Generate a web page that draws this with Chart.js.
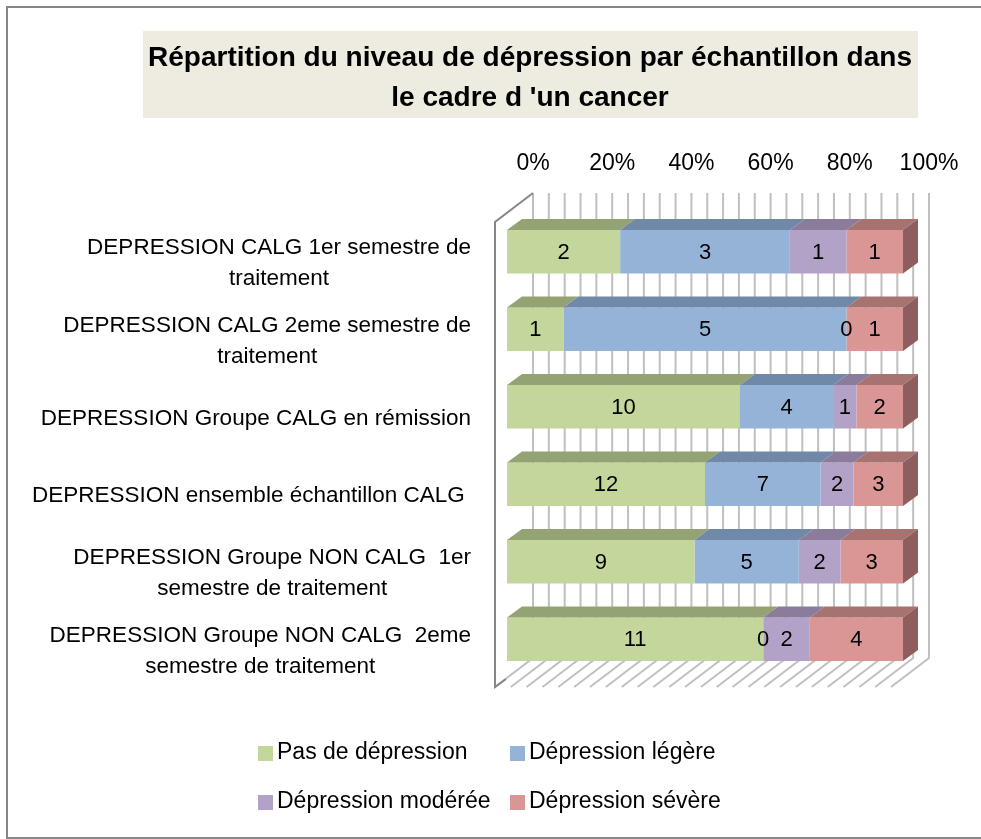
<!DOCTYPE html>
<html>
<head>
<meta charset="utf-8">
<script src="https://cdn.jsdelivr.net/npm/chart.js@4.4.1/dist/chart.umd.min.js"></script>
<style>
  html, body { margin: 0; padding: 0; background: #ffffff; }
  #chart { display: block; }
</style>
</head>
<body>
<canvas id="chart" width="981" height="839"></canvas>
<script>
(function () {
  "use strict";

  var titleLines = [
    "Répartition du niveau de dépression par échantillon dans",
    "le cadre d 'un cancer"
  ];

  var categories = [
    ["DEPRESSION CALG 1er semestre de", "traitement"],
    ["DEPRESSION CALG 2eme semestre de", "traitement"],
    ["DEPRESSION Groupe CALG en rémission"],
    ["DEPRESSION ensemble échantillon CALG "],
    ["DEPRESSION Groupe NON CALG  1er", "semestre de traitement"],
    ["DEPRESSION Groupe NON CALG  2eme", "semestre de traitement"]
  ];

  var seriesNames = [
    "Pas de dépression",
    "Dépression légère",
    "Dépression modérée",
    "Dépression sévère"
  ];

  var pasDeDepression = [2, 1, 10, 12, 9, 11];
  var depressionLegere = [3, 5, 4, 7, 5, 0];
  var depressionModeree = [1, 0, 1, 2, 2, 2];
  var depressionSevere = [1, 1, 2, 3, 3, 4];

  var tickValues = [0, 20, 40, 60, 80, 100];
  var tickLabels = ["0%", "20%", "40%", "60%", "80%", "100%"];

  var counts = [pasDeDepression, depressionLegere, depressionModeree, depressionSevere];

  var frontColors = ["#C3D69B", "#95B3D7", "#B3A2C7", "#D99694"];
  var topColors = ["#93A373", "#7089A8", "#8B7C9B", "#A77370"];
  var sideColors = ["#7A8A5E", "#5E7490", "#756784", "#8E5E5E"];

  var FONT = "'Liberation Sans', Arial, sans-serif";
  var BACK_DX = 26, BACK_DY = -20;   // bar plane -> back wall
  var FRONT_DX = -12, FRONT_DY = 9;  // bar plane -> front plane
  var BAR_DX = 15, BAR_DY = -11;     // bar depth
  var GRID_STEP = 4;

  function rowTotal(i) {
    var t = 0;
    for (var s = 0; s < counts.length; s++) t += counts[s][i];
    return t;
  }

  function percents(series) {
    return series.map(function (v, i) {
      return (v / rowTotal(i)) * 100;
    });
  }

  var datasets = seriesNames.map(function (name, s) {
    return {
      label: name,
      data: percents(counts[s]),
      counts: counts[s],
      backgroundColor: frontColors[s],
      topColor: topColors[s],
      sideColor: sideColors[s],
      borderWidth: 0,
      barPercentage: 0.56,
      categoryPercentage: 1
    };
  });

  function poly(ctx, pts, fill) {
    ctx.beginPath();
    ctx.moveTo(pts[0][0], pts[0][1]);
    for (var i = 1; i < pts.length; i++) ctx.lineTo(pts[i][0], pts[i][1]);
    ctx.closePath();
    ctx.fillStyle = fill;
    ctx.fill();
  }

  var excel3d = {
    id: "excel3d",
    beforeDraw: function (chart) {
      var ctx = chart.ctx;
      var area = chart.chartArea;
      var xs = chart.scales.x;
      var ys = chart.scales.y;

      ctx.save();
      ctx.fillStyle = "#ffffff";
      ctx.fillRect(0, 0, chart.width, chart.height);

      // outer frame
      ctx.strokeStyle = "#868686";
      ctx.lineWidth = 2;
      ctx.strokeRect(7, 7, 990, 831);

      // title box
      ctx.fillStyle = "#EEECE1";
      ctx.fillRect(143, 31, 775, 87);
      ctx.fillStyle = "#000000";
      ctx.font = "bold 28px " + FONT;
      ctx.textAlign = "center";
      ctx.textBaseline = "middle";
      ctx.fillText(titleLines[0], 530, 58);
      ctx.fillText(titleLines[1], 530, 98);

      // back wall gridlines + floor lines
      var backTop = area.top + BACK_DY;
      var backBottom = area.bottom + BACK_DY;
      var frontBottom = area.bottom + FRONT_DY;
      ctx.strokeStyle = "#C0C0C0";
      ctx.lineWidth = 2;
      for (var v = 0; v <= 100; v += GRID_STEP) {
        var px = xs.getPixelForValue(v);
        ctx.beginPath();
        ctx.moveTo(px + BACK_DX, backTop);
        ctx.lineTo(px + BACK_DX, backBottom);
        ctx.lineTo(px + FRONT_DX, frontBottom);
        ctx.stroke();
      }

      // left wall outline
      var x0 = xs.getPixelForValue(0);
      ctx.strokeStyle = "#868686";
      ctx.lineWidth = 2;
      ctx.beginPath();
      ctx.moveTo(x0 + FRONT_DX + 11, frontBottom - 8);
      ctx.lineTo(x0 + FRONT_DX, frontBottom);
      ctx.lineTo(x0 + FRONT_DX, area.top + FRONT_DY);
      ctx.lineTo(x0 + BACK_DX, backTop);
      ctx.stroke();

      // tick labels (on the back wall)
      ctx.fillStyle = "#000000";
      ctx.font = "23px " + FONT;
      ctx.textAlign = "center";
      ctx.textBaseline = "middle";
      for (var t = 0; t < tickValues.length; t++) {
        ctx.fillText(tickLabels[t], xs.getPixelForValue(tickValues[t]) + BACK_DX, 164);
      }

      // category labels
      ctx.font = "22.5px " + FONT;
      var rightEdge = 471;
      var lineH = 31;
      for (var c = 0; c < categories.length; c++) {
        var lines = categories[c];
        var maxW = 0;
        for (var l = 0; l < lines.length; l++) {
          maxW = Math.max(maxW, ctx.measureText(lines[l]).width);
        }
        var cx = rightEdge - maxW / 2;
        var cy = ys.getPixelForValue(c) + FRONT_DY + 3;
        var startY = cy - ((lines.length - 1) * lineH) / 2;
        for (var k = 0; k < lines.length; k++) {
          ctx.fillText(lines[k], cx, startY + k * lineH);
        }
      }
      ctx.restore();
    },

    afterDatasetsDraw: function (chart) {
      var ctx = chart.ctx;
      ctx.save();
      var nRows = categories.length;
      for (var i = 0; i < nRows; i++) {
        var lastEl = null, lastDs = null;
        for (var d = 0; d < chart.data.datasets.length; d++) {
          var ds = chart.data.datasets[d];
          var el = chart.getDatasetMeta(d).data[i];
          var left = Math.min(el.base, el.x);
          var right = Math.max(el.base, el.x);
          var top = el.y - el.height / 2;
          if (right - left > 0.5) {
            poly(ctx, [
              [left, top], [right, top],
              [right + BAR_DX, top + BAR_DY], [left + BAR_DX, top + BAR_DY]
            ], ds.topColor);
            lastEl = el;
            lastDs = ds;
          }
        }
        if (lastEl) {
          var r = Math.max(lastEl.base, lastEl.x);
          var tp = lastEl.y - lastEl.height / 2;
          var bt = lastEl.y + lastEl.height / 2;
          poly(ctx, [
            [r, tp], [r + BAR_DX, tp + BAR_DY],
            [r + BAR_DX, bt + BAR_DY], [r, bt]
          ], lastDs.sideColor);
        }
      }

      // value labels
      ctx.fillStyle = "#000000";
      ctx.font = "22px " + FONT;
      ctx.textAlign = "center";
      ctx.textBaseline = "middle";
      for (var d2 = 0; d2 < chart.data.datasets.length; d2++) {
        var ds2 = chart.data.datasets[d2];
        var meta = chart.getDatasetMeta(d2);
        for (var j = 0; j < meta.data.length; j++) {
          var e = meta.data[j];
          ctx.fillText(String(ds2.counts[j]), (e.base + e.x) / 2, e.y + 1);
        }
      }
      ctx.restore();
    },

    afterDraw: function (chart) {
      var ctx = chart.ctx;
      ctx.save();
      ctx.font = "23px " + FONT;
      ctx.textAlign = "left";
      ctx.textBaseline = "middle";
      var cols = [258, 510];
      var rows = [753, 802];
      for (var s = 0; s < chart.data.datasets.length; s++) {
        var bx = cols[s % 2];
        var by = rows[Math.floor(s / 2)];
        ctx.fillStyle = chart.data.datasets[s].backgroundColor;
        ctx.fillRect(bx, by - 7, 15, 15);
        ctx.fillStyle = "#000000";
        ctx.fillText(chart.data.datasets[s].label, bx + 19, by);
      }
      ctx.restore();
    }
  };

  var canvas = document.getElementById("chart");
  new Chart(canvas, {
    type: "bar",
    data: {
      labels: categories,
      datasets: datasets
    },
    options: {
      indexAxis: "y",
      responsive: false,
      animation: false,
      devicePixelRatio: 1,
      layout: {
        padding: { left: 507, right: 78, top: 213, bottom: 161 }
      },
      plugins: {
        legend: { display: false },
        tooltip: { enabled: false },
        title: { display: false }
      },
      scales: {
        x: { type: "linear", stacked: true, min: 0, max: 100, display: false },
        y: { type: "category", stacked: true, display: false }
      }
    },
    plugins: [excel3d]
  });
})();
</script>
</body>
</html>
